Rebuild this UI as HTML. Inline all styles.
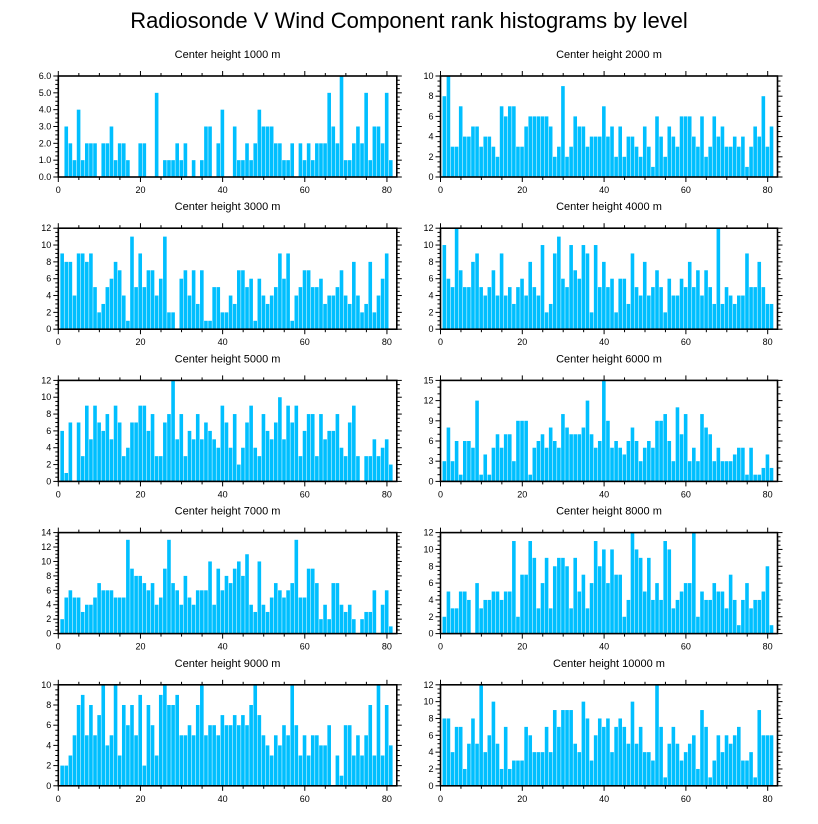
<!DOCTYPE html>
<html><head><meta charset="utf-8">
<style>
body{margin:0;background:#fff;}
svg{display:block;font-family:"Liberation Sans",sans-serif;}
</style></head>
<body>
<svg id="chart" width="818" height="824" viewBox="0 0 818 824">
<text x="409" y="28" text-anchor="middle" font-size="22">Radiosonde V Wind Component rank histograms by level</text>
</svg>
<script>
const levels = ["1000","2000","3000","4000","5000","6000","7000","8000","9000","10000"];
const yMaxes = [6,10,12,12,12,15,14,12,10,12];
const yStepsArr = [1,2,2,2,2,3,2,2,2,2];
const xTicks = [0,20,40,60,80];
const counts1000 = [0,3,2,1,4,1,2,2,2,0,2,2,3,1,2,2,1,0,0,2,2,0,0,5,0,1,1,1,2,1,2,0,1,0,1,3,3,0,2,4,0,0,3,1,1,2,1,2,4,3,3,3,2,2,1,1,2,0,2,1,2,1,2,2,2,5,3,2,6,1,1,2,3,2,5,1,3,3,2,5,1];
const counts2000 = [8,10,3,3,7,4,4,5,5,3,4,4,3,2,7,6,7,7,3,3,5,6,6,6,6,6,5,2,3,9,2,3,6,5,5,3,4,4,4,7,4,5,2,5,2,4,4,3,2,5,3,1,6,4,2,5,4,3,6,6,6,4,3,6,2,3,6,4,5,3,3,4,3,4,1,3,5,4,8,3,5];
const counts3000 = [9,8,8,4,9,9,8,9,5,2,3,5,6,8,7,4,1,11,5,9,5,7,7,4,6,11,2,2,0,6,7,4,7,3,7,1,1,5,5,2,2,4,3,7,7,5,6,1,6,4,3,4,5,9,6,9,1,4,5,7,7,5,5,6,3,4,4,5,7,4,3,8,4,2,3,8,2,4,6,9,0];
const counts4000 = [10,6,5,12,7,5,5,8,9,5,4,5,7,4,9,4,5,3,5,6,4,8,5,4,10,2,3,9,11,6,5,10,7,6,10,9,2,10,5,8,5,6,2,6,6,3,9,5,4,8,4,5,7,5,2,6,4,4,6,5,8,5,7,4,7,5,3,12,3,5,4,3,4,4,9,5,5,8,5,3,3];
const counts5000 = [6,1,7,0,7,3,9,5,9,7,6,8,5,9,7,3,4,7,7,9,9,6,8,3,3,7,8,12,5,8,3,6,5,8,5,7,6,5,4,9,7,4,8,2,4,7,9,4,3,8,6,5,7,10,5,9,7,9,3,6,8,8,3,8,5,6,6,8,4,3,7,9,3,0,3,3,5,3,4,5,2];
const counts6000 = [3,8,3,6,1,6,6,5,12,1,4,1,5,7,5,7,7,3,9,9,9,1,5,6,7,5,8,6,5,10,8,7,7,7,8,12,7,5,6,15,9,5,6,5,4,6,8,6,3,5,6,5,9,9,10,6,3,11,7,10,3,5,3,10,8,7,3,5,3,3,3,4,5,5,1,5,1,1,2,4,2];
const counts7000 = [2,5,6,5,5,3,4,4,5,7,6,6,6,5,5,5,13,9,8,8,7,6,7,4,5,9,13,7,6,4,8,5,4,6,6,6,10,4,9,6,8,7,9,10,8,11,4,3,10,4,3,5,7,6,5,6,7,13,5,5,9,9,7,2,4,2,7,7,4,3,4,2,0,2,3,3,6,0,4,6,1];
const counts8000 = [2,5,3,3,5,5,4,0,6,3,4,4,5,5,4,5,5,11,2,7,7,11,9,3,6,9,3,8,9,9,8,3,9,5,7,3,6,11,8,10,6,10,7,7,2,4,12,10,9,5,9,4,6,4,11,10,3,4,5,6,6,12,2,5,4,4,6,5,5,3,7,4,1,4,6,3,4,4,5,8,1];
const counts9000 = [2,2,3,5,8,9,5,8,5,7,10,4,5,10,3,8,6,8,5,9,2,8,6,3,9,10,8,8,9,5,5,6,5,8,10,5,6,6,5,7,6,6,7,6,7,6,8,10,7,5,4,3,5,4,6,5,10,6,3,5,3,5,5,4,4,6,0,3,1,6,6,3,5,3,5,8,3,10,3,8,4];
const counts10000 = [8,8,4,7,7,2,5,8,5,12,4,6,10,5,2,7,2,3,3,3,7,6,4,4,4,7,4,9,7,9,9,9,5,4,10,8,3,6,8,7,8,4,7,8,7,5,10,5,7,4,4,3,12,7,1,5,7,5,3,4,5,6,2,9,7,1,3,6,4,6,5,6,7,3,3,4,1,9,6,6,6];
const allCounts = [counts1000,counts2000,counts3000,counts4000,counts5000,counts6000,counts7000,counts8000,counts9000,counts10000];

const NS = "http://www.w3.org/2000/svg";
const svg = document.getElementById("chart");
function mk(tag, attrs, parent){
  const e = document.createElementNS(NS, tag);
  for (const k in attrs) e.setAttribute(k, attrs[k]);
  (parent||svg).appendChild(e);
  return e;
}
const XMAX = 82.4;
for (let p=0; p<10; p++){
  const col = p%2, row = Math.floor(p/2);
  const L = col===0 ? 58.3 : 440.5;
  const W = col===0 ? 338.5 : 337;
  const T = 76 + row*152.2;
  const B = T + 101;
  const ymax = yMaxes[p], ystep = yStepsArr[p];
  const xs = v => L + v/XMAX*W;
  const ys = v => B - v/ymax*(B-T);
  const g = mk("g", {});
  
  
  const t = mk("text", {x: L+W/2, y: T-18, "text-anchor":"middle", "font-size":"11"}, g);
  t.textContent = "Center height " + levels[p] + " m";
  
  
  const data = allCounts[p];
  for (let i=0; i<data.length; i++){
    const c = i+1;
    if (data[i] <= 0) continue;
    const x0 = xs(c-0.5), x1 = Math.min(xs(c+0.5), L+W);
    const r = mk("rect", {x: x0, y: ys(data[i]), width: Math.max(0, x1-x0-0.5), height: B-ys(data[i]), fill:"#00bfff"}, g);
    
    
  }
  const fr = mk("rect", {x:L, y:T, width:W, height:B-T, fill:"none", stroke:"#000", "stroke-width":"1.6"}, g);
  
  
  for (let v=0; v<=XMAX; v+=5){
    const major = v%20===0, len = major?5:3, x = xs(v);
    mk("line", {x1:x, x2:x, y1:B, y2:B+len, stroke:"#000", "stroke-width":"1"}, g);
    mk("line", {x1:x, x2:x, y1:T, y2:T-len, stroke:"#000", "stroke-width":"1"}, g);
  }
  xTicks.forEach(v=>{
    const tx = mk("text", {x: xs(v), y: B+16, "text-anchor":"middle", "font-size":"9"}, g);
    tx.textContent = v;
    
    
  });
  const minor = ystep/(ystep===3?3:4);
  for (let v=0; v<=ymax+1e-9; v+=minor){
    const major = Math.abs(v/ystep - Math.round(v/ystep))<1e-6, len = major?5:3, y = ys(v);
    mk("line", {x1:L, x2:L-len, y1:y, y2:y, stroke:"#000", "stroke-width":"1"}, g);
    mk("line", {x1:L+W, x2:L+W+len, y1:y, y2:y, stroke:"#000", "stroke-width":"1"}, g);
  }
  for (let v=0; v<=ymax+1e-9; v+=ystep){
    const ty = mk("text", {x: L-7, y: ys(v)+3, "text-anchor":"end", "font-size":"9"}, g);
    ty.textContent = p===0 ? v.toFixed(1) : v;
    
    
  }
}
</script>
</body></html>
